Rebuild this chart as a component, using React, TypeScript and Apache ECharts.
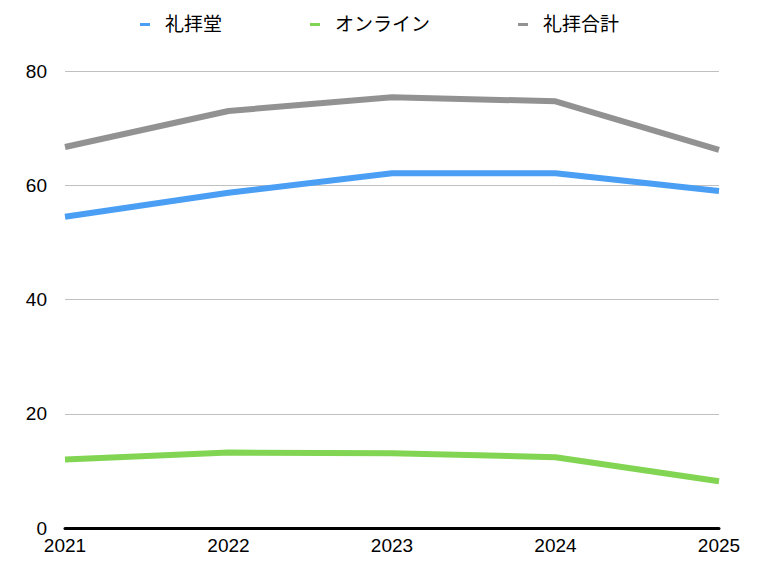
import React, { useEffect, useRef } from "react";
import * as echarts from "echarts";

const years = ["2021", "2022", "2023", "2024", "2025"];
const chapel = [54.5, 58.7, 62.1, 62.1, 59.0];
const online = [12.0, 13.2, 13.1, 12.4, 8.2];
const total = [66.7, 73.0, 75.4, 74.7, 66.2];
const yTicks = { min: 0, max: 80, interval: 20 };

const FONT = "'Liberation Sans', 'Noto Sans CJK JP', sans-serif";

export default function App() {
  const ref = useRef<HTMLDivElement>(null);
  useEffect(() => {
    if (!ref.current) return;
    const chart = echarts.init(ref.current, null, { renderer: "svg" });
    const mk = (name: string, data: number[], color: string) => ({
      name,
      type: "line",
      data,
      symbol: "none",
      lineStyle: { width: 6, color },
      itemStyle: { color },
    });
    chart.setOption({
      animation: false,
      textStyle: { fontFamily: FONT },
      legend: {
        top: 10,
        left: 135,
        icon: "rect",
        itemWidth: 10,
        itemHeight: 3,
        itemGap: 88,
        textStyle: { fontSize: 19, color: "#000", fontFamily: FONT, padding: [0, 0, 0, 10] },
        data: ["礼拝堂", "オンライン", "礼拝合計"],
      },
      grid: { left: 65, right: 51, top: 71, bottom: 42, containLabel: false },
      xAxis: {
        type: "category",
        data: years,
        boundaryGap: false,
        axisLine: { lineStyle: { color: "#000", width: 3 } },
        axisTick: { show: false },
        axisLabel: { color: "#000", fontSize: 19, margin: 8, fontFamily: FONT },
      },
      yAxis: {
        type: "value",
        min: yTicks.min,
        max: yTicks.max,
        interval: yTicks.interval,
        axisLine: { show: false },
        axisTick: { show: false },
        axisLabel: { color: "#000", fontSize: 19, margin: 18, fontFamily: FONT },
        splitLine: { lineStyle: { color: "#c0c0c0", width: 1 } },
      },
      series: [
        mk("礼拝堂", chapel, "#4a9ff5"),
        mk("オンライン", online, "#82d552"),
        mk("礼拝合計", total, "#929292"),
      ],
    });
    return () => chart.dispose();
  }, []);
  return <div ref={ref} style={{ width: 770, height: 570, position: "absolute", left: 0, top: 0 }} />;
}
